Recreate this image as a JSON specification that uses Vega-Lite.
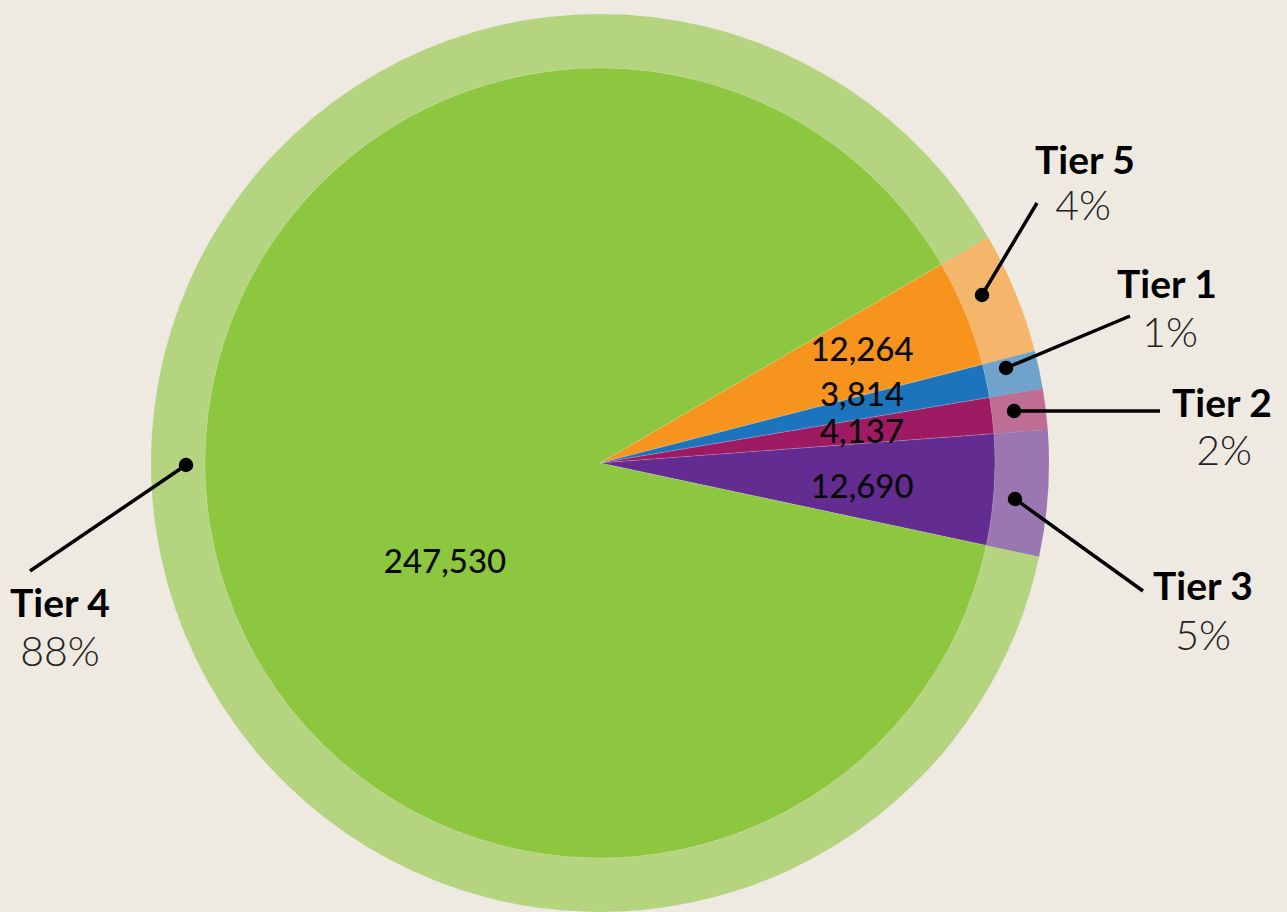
{
  "$schema": "https://vega.github.io/schema/vega-lite/v6.json",
  "width": 1287,
  "height": 912,
  "padding": 0,
  "autosize": {"type": "fit", "contains": "padding"},
  "background": "#EEE9E1",
  "config": {"view": {"stroke": null}},
  "data": {
    "values": [
      {"tier": "Tier 5", "count": 12264, "ord": 1, "pct": "4%", "label": "12,264", "vx": 262, "vy": 112, "dx": 382, "dy": 168, "ex": 437, "ey": 260, "nx": 485, "ny": 301, "px": 483, "py": 255},
      {"tier": "Tier 1", "count": 3814, "ord": 2, "pct": "1%", "label": "3,814", "vx": 262, "vy": 67, "dx": 406, "dy": 95, "ex": 530, "ey": 147, "nx": 567, "ny": 177, "px": 570, "py": 128},
      {"tier": "Tier 2", "count": 4137, "ord": 3, "pct": "2%", "label": "4,137", "vx": 262, "vy": 30, "dx": 414, "dy": 52, "ex": 560, "ey": 52, "nx": 622, "ny": 58, "px": 624, "py": 10},
      {"tier": "Tier 3", "count": 12690, "ord": 4, "pct": "5%", "label": "12,690", "vx": 262, "vy": -25, "dx": 415, "dy": -36, "ex": 543, "ey": -128, "nx": 603, "ny": -125, "px": 603, "py": -175},
      {"tier": "Tier 4", "count": 247530, "ord": 5, "pct": "88%", "label": "247,530", "vx": -155, "vy": -100, "dx": -414, "dy": -2, "ex": -570, "ey": -108, "nx": -540, "ny": -142, "px": -540, "py": -191}
    ]
  },
  "layer": [
    {
      "mark": {"type": "arc", "radius": 449, "radius2": 395, "opacity": 0.6},
      "encoding": {
        "x": {"datum": 0, "type": "quantitative", "scale": {"domain": [-600, 687], "nice": false, "zero": false}, "axis": null},
        "y": {"datum": 0, "type": "quantitative", "scale": {"domain": [-449, 463], "nice": false, "zero": false}, "axis": null},
        "theta": {"field": "count", "type": "quantitative", "stack": true, "scale": {"range": [1.0437, 7.3269]}},
        "order": {"field": "ord", "type": "quantitative"},
        "color": {"field": "tier", "type": "nominal", "legend": null, "scale": {"domain": ["Tier 5", "Tier 1", "Tier 2", "Tier 3", "Tier 4"], "range": ["#F7941D", "#1C75BC", "#9E1B63", "#622C90", "#8DC63F"]}}
      }
    },
    {
      "mark": {"type": "arc", "radius": 395, "stroke": "#ffffff", "strokeWidth": 0.5, "strokeOpacity": 0.3},
      "encoding": {
        "x": {"datum": 0, "type": "quantitative"},
        "y": {"datum": 0, "type": "quantitative"},
        "theta": {"field": "count", "type": "quantitative", "stack": true},
        "order": {"field": "ord", "type": "quantitative"},
        "color": {"field": "tier", "type": "nominal", "legend": null}
      }
    },
    {
      "mark": {"type": "text", "font": "Lato", "fontSize": 33, "fontWeight": 500, "color": "#0a0a0a", "align": "center", "baseline": "middle"},
      "encoding": {
        "x": {"field": "vx", "type": "quantitative"},
        "y": {"field": "vy", "type": "quantitative"},
        "text": {"field": "label"}
      }
    },
    {
      "mark": {"type": "rule", "color": "#000000", "strokeWidth": 3.5},
      "encoding": {
        "x": {"field": "dx", "type": "quantitative"},
        "y": {"field": "dy", "type": "quantitative"},
        "x2": {"field": "ex"},
        "y2": {"field": "ey"}
      }
    },
    {
      "mark": {"type": "point", "filled": true, "color": "#000000", "opacity": 1, "size": 210},
      "encoding": {
        "x": {"field": "dx", "type": "quantitative"},
        "y": {"field": "dy", "type": "quantitative"}
      }
    },
    {
      "mark": {"type": "text", "font": "Lato", "fontSize": 39, "fontWeight": "bold", "color": "#000000", "align": "center", "baseline": "middle"},
      "encoding": {
        "x": {"field": "nx", "type": "quantitative"},
        "y": {"field": "ny", "type": "quantitative"},
        "text": {"field": "tier"}
      }
    },
    {
      "mark": {"type": "text", "font": "Lato", "fontSize": 41, "fontWeight": 300, "color": "#222222", "align": "center", "baseline": "middle"},
      "encoding": {
        "x": {"field": "px", "type": "quantitative"},
        "y": {"field": "py", "type": "quantitative"},
        "text": {"field": "pct"}
      }
    }
  ]
}
